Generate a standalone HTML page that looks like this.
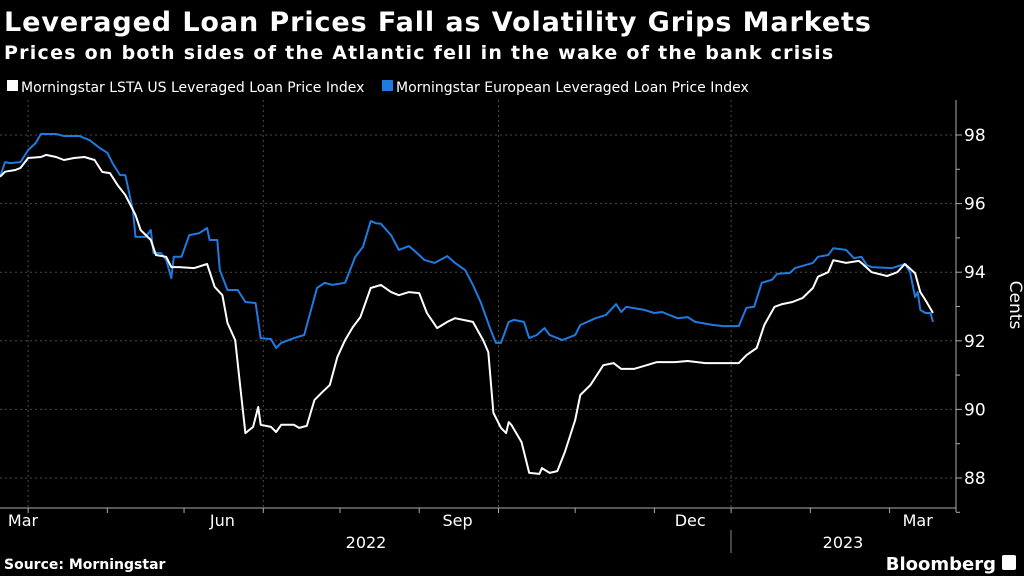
<!DOCTYPE html>
<html><head><meta charset="utf-8"><style>
html,body{margin:0;padding:0;background:#000;width:1024px;height:576px;overflow:hidden}
svg{display:block}
text{font-family:"DejaVu Sans","Liberation Sans",sans-serif}
</style></head><body>
<svg id="chart" width="1024" height="576">
<text x="4" y="31" fill="#fff" font-size="27" font-weight="bold" letter-spacing="0.9">Leveraged Loan Prices Fall as Volatility Grips Markets</text>
<text x="4" y="59" fill="#fff" font-size="19" font-weight="bold" letter-spacing="1.25">Prices on both sides of the Atlantic fell in the wake of the bank crisis</text>
<g>
<rect x="7" y="80" width="11" height="11" fill="#fff"/>
<text x="21" y="92" fill="#fff" font-size="14">Morningstar LSTA US Leveraged Loan Price Index</text>
<rect x="382" y="80" width="11" height="11" fill="#1f7be0"/>
<text x="396" y="92" fill="#fff" font-size="14">Morningstar European Leveraged Loan Price Index</text>
</g>
<g id="grid"></g><g id="axes"></g><g id="series"></g>
<text x="366" y="548" fill="#fff" font-size="16" text-anchor="middle">2022</text>
<text x="843" y="548" fill="#fff" font-size="16" text-anchor="middle">2023</text>
<line x1="731" y1="530" x2="731" y2="553" stroke="#888" stroke-width="1"/>
<text x="4" y="569" fill="#fff" font-size="14" font-weight="bold">Source: Morningstar</text>
<text x="996" y="570" fill="#fff" font-size="18" font-weight="bold" text-anchor="end">Bloomberg</text>
<rect x="1002" y="555" width="14" height="15" rx="2" fill="#fff"/>
<text x="1010" y="305" fill="#fff" font-size="17" text-anchor="middle" transform="rotate(90 1010 305)">Cents</text>
</svg>
<script>
const usDays=[0,2,6,8,11,16,18,22,25,29,33,37,40,43,46,49,53,55,59,61,65,67,70,76,81,84,87,89,92,94,96,99,101,102,106,108,110,115,117,120,123,126,129,132,135,138,141,145,149,153,156,160,164,167,171,175,178,185,189,191,193,196,198,199,200,204,207,211,212,215,218,221,225,227,231,236,240,243,248,253,257,264,269,276,283,289,292,296,299,303,306,310,314,318,320,324,326,331,336,337,341,347,351,354,358,360,362,365];
const usValues=[96.78,96.93,96.98,97.04,97.33,97.36,97.42,97.36,97.27,97.33,97.36,97.27,96.92,96.89,96.54,96.25,95.67,95.23,94.94,94.5,94.45,94.15,94.15,94.12,94.24,93.57,93.33,92.52,92.02,90.65,89.31,89.49,90.07,89.55,89.49,89.34,89.55,89.55,89.46,89.52,90.27,90.5,90.71,91.53,92.02,92.4,92.69,93.54,93.63,93.42,93.33,93.42,93.39,92.81,92.37,92.55,92.66,92.55,92.02,91.67,89.9,89.46,89.31,89.63,89.55,89.05,88.15,88.12,88.29,88.15,88.2,88.76,89.69,90.42,90.71,91.29,91.35,91.18,91.18,91.29,91.38,91.38,91.41,91.35,91.35,91.35,91.58,91.79,92.46,92.99,93.07,93.13,93.25,93.54,93.87,94.0,94.35,94.27,94.33,94.27,94.0,93.89,94.0,94.24,93.97,93.42,93.19,92.81];
const euDays=[0,2,4,8,11,14,16,22,25,31,35,39,42,44,47,49,52,53,57,59,60,63,65,67,68,71,74,78,81,82,85,86,89,93,96,100,102,106,108,110,115,119,124,127,130,135,139,142,145,147,149,153,156,160,164,166,170,175,178,182,185,188,192,194,196,199,201,205,207,210,213,215,220,225,227,233,237,241,243,245,252,256,259,265,269,272,279,283,289,292,295,298,302,304,309,311,318,320,324,326,331,334,337,339,341,349,354,356,358,359,360,362,364,365];
const euValues=[96.78,97.21,97.18,97.21,97.56,97.77,98.03,98.03,97.97,97.97,97.85,97.62,97.48,97.18,96.83,96.83,95.81,95.03,95.03,95.23,94.56,94.56,94.36,93.83,94.45,94.45,95.08,95.14,95.29,94.94,94.94,94.06,93.48,93.48,93.13,93.1,92.08,92.05,91.79,91.94,92.08,92.17,93.54,93.69,93.63,93.69,94.45,94.74,95.49,95.43,95.41,95.08,94.65,94.76,94.5,94.36,94.27,94.47,94.27,94.06,93.63,93.13,92.31,91.94,91.94,92.55,92.61,92.55,92.08,92.17,92.37,92.17,92.02,92.17,92.46,92.66,92.75,93.07,92.84,92.99,92.9,92.81,92.84,92.66,92.69,92.55,92.46,92.43,92.43,92.96,92.99,93.69,93.78,93.95,93.98,94.12,94.27,94.45,94.5,94.7,94.65,94.41,94.45,94.21,94.15,94.12,94.24,94.0,93.28,93.42,92.9,92.81,92.81,92.55];
const yTicks=[88,90,92,94,96,98];
const yMinorTicks=[87,89,91,93,95,97];
const monthTickDays=[11,42,72,103,133,164,195,225,256,286,317,348];
const gridDays=[11,103,195,286];
const monthLabels=["Mar","Jun","Sep","Dec","Mar"];
const monthLabelDays=[9,87,179,270,359];

const NS="http://www.w3.org/2000/svg";
const X=d=>d*(935.6/366);
const Y=v=>135+(98-v)*34.3;
function mk(tag,attrs,parent){const e=document.createElementNS(NS,tag);for(const k in attrs)e.setAttribute(k,attrs[k]);parent.appendChild(e);return e;}
const grid=document.getElementById('grid'),axes=document.getElementById('axes'),series=document.getElementById('series');
yTicks.forEach(t=>{
  const l=mk('line',{x1:0,x2:956,y1:Y(t),y2:Y(t),stroke:'#4a4a4a','stroke-dasharray':'2,3','stroke-width':1},grid);
  
  
  const tk=mk('line',{x1:956,x2:962,y1:Y(t),y2:Y(t),stroke:'#aaa'},axes);
  
  
  const tx=mk('text',{x:964,y:Y(t)+6,fill:'#fff','font-size':17},axes);
  tx.textContent=t;
  
  
});
yMinorTicks.forEach(t=>{
  const tk=mk('line',{x1:956,x2:960,y1:Y(t),y2:Y(t),stroke:'#aaa'},axes);
  
  
});
gridDays.forEach(d=>{
  const l=mk('line',{x1:X(d),x2:X(d),y1:100,y2:508,stroke:'#4a4a4a','stroke-dasharray':'2,3'},grid);
  
  
});
const ya=mk('line',{x1:956,x2:956,y1:100,y2:512,stroke:'#aaa'},axes);


const xa=mk('line',{x1:0,x2:956,y1:508,y2:508,stroke:'#aaa'},axes);


monthTickDays.forEach(d=>{
  const tk=mk('line',{x1:X(d),x2:X(d),y1:508,y2:513,stroke:'#aaa'},axes);
  
  
});
monthLabels.forEach((m,i)=>{
  const tx=mk('text',{x:X(monthLabelDays[i]),y:526,fill:'#fff','font-size':16,'text-anchor':'middle'},axes);
  tx.textContent=m;
  
  
});
function line(days,vals,color,name){
  const d=days.map((x,i)=>(i?'L':'M')+X(x).toFixed(1)+','+Y(vals[i]).toFixed(1)).join('');
  const p=mk('path',{d:d,fill:'none',stroke:color,'stroke-width':2,'stroke-linejoin':'round'},series);
  
  
}
line(euDays,euValues,'#1f7be0','europe-loan-index-line');
line(usDays,usValues,'#ffffff','us-loan-index-line');
</script>
</body></html>
